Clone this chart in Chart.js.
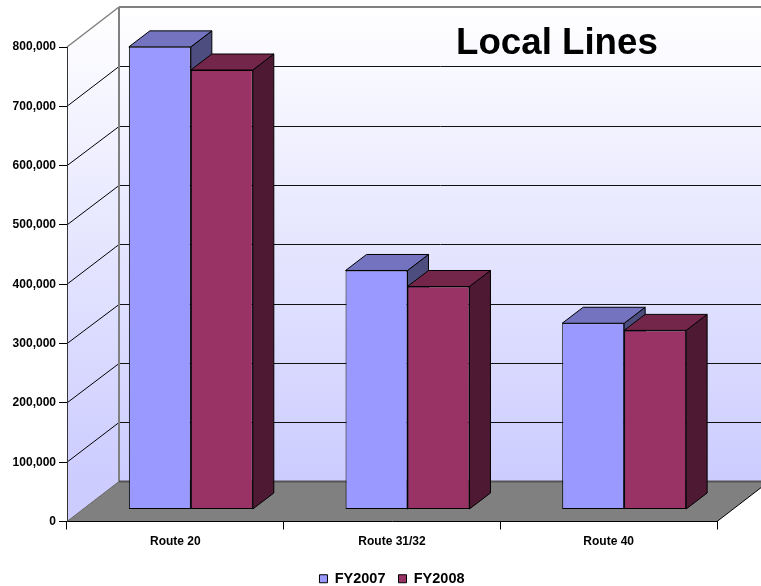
<!DOCTYPE html>
<html>
<head>
<meta charset="utf-8">
<title>Local Lines</title>
<style>
  html, body { margin: 0; padding: 0; background: #fff; }
  canvas { display: block; }
</style>
<script src="https://cdn.jsdelivr.net/npm/chart.js@4/dist/chart.umd.min.js"></script>
</head>
<body>
<canvas id="chart" width="761" height="586"></canvas>
<script>
const routes = ['Route 20', 'Route 31/32', 'Route 40'];
const fy2007 = [780000, 403000, 314000];
const fy2008 = [741000, 376000, 302000];
const yTickLabels = ['0', '100,000', '200,000', '300,000', '400,000', '500,000', '600,000', '700,000', '800,000'];

const FONT = '"Liberation Sans", Arial, sans-serif';
// box depth of the plot (walls) and of each bar
const WALL_DX = 52, WALL_DY = 40;
const BAR_DX = 21, BAR_DY = 16;
// bars stand part way back on the floor
const FLOOR_DX = 15.5, FLOOR_DY = 12;

const shades = {
  FY2007: { top: '#7373BF', side: '#4D4D80' },
  FY2008: { top: '#732649', side: '#4D1933' },
};

function poly(ctx, pts, fill, stroke, lw) {
  ctx.beginPath();
  pts.forEach((p, i) => i ? ctx.lineTo(p[0], p[1]) : ctx.moveTo(p[0], p[1]));
  ctx.closePath();
  if (fill) { ctx.fillStyle = fill; ctx.fill(); }
  if (stroke) { ctx.strokeStyle = stroke; ctx.lineWidth = lw || 1; ctx.stroke(); }
}

function segment(ctx, x1, y1, x2, y2, color, lw) {
  ctx.beginPath();
  ctx.moveTo(x1, y1);
  ctx.lineTo(x2, y2);
  ctx.strokeStyle = color;
  ctx.lineWidth = lw || 1;
  ctx.stroke();
}

const box3d = {
  id: 'box3d',
  // walls, floor and receding grid lines
  beforeDraw(chart) {
    const { ctx, chartArea: a, scales: { y } } = chart;
    const wallLeft = a.left + WALL_DX, wallTop = a.top - WALL_DY, wallBottom = a.bottom - WALL_DY;
    const wallRight = a.right + WALL_DX;

    const grad = ctx.createLinearGradient(0, wallTop, 0, wallBottom);
    grad.addColorStop(0, '#ffffff');
    grad.addColorStop(1, '#ccccff');

    ctx.save();
    poly(ctx, [[wallLeft, wallTop], [wallRight, wallTop], [wallRight, wallBottom], [wallLeft, wallBottom]], grad);
    poly(ctx, [[a.left, a.top], [wallLeft, wallTop], [wallLeft, wallBottom], [a.left, a.bottom]], grad);
    poly(ctx, [[a.left, a.bottom], [a.right, a.bottom], [wallRight, wallBottom], [wallLeft, wallBottom]], '#808080');

    y.ticks.forEach(t => {
      const py = y.getPixelForValue(t.value);
      if (t.value === 0 || t.value === y.max) return;
      const back = Math.round(py - WALL_DY) + 0.5;
      segment(ctx, a.left, py, wallLeft, back, '#000');
      segment(ctx, wallLeft, back, wallRight, back, '#111');
    });

    segment(ctx, a.left, a.top, wallLeft, wallTop, '#808080', 1.5);
    segment(ctx, wallLeft, wallTop, wallRight, wallTop, '#808080', 2);
    segment(ctx, wallLeft, wallTop, wallLeft, wallBottom, '#808080', 2);
    segment(ctx, wallLeft, wallBottom, wallRight, wallBottom, '#555', 2);
    segment(ctx, a.left, a.bottom, wallLeft, wallBottom, '#666', 1);
    segment(ctx, a.right, a.bottom, wallRight, wallBottom, '#000', 1);
    ctx.restore();
  },
  // side and top faces of every bar, left series first; the library paints the fronts after
  beforeDatasetsDraw(chart) {
    const { ctx } = chart;
    ctx.save();
    ctx.translate(FLOOR_DX, -FLOOR_DY);
    chart.data.datasets.forEach((ds, i) => {
      const s = shades[ds.label];
      chart.getDatasetMeta(i).data.forEach(el => {
        const l = el.x - el.width / 2, r = el.x + el.width / 2;
        poly(ctx, [[r, el.y], [r + BAR_DX, el.y - BAR_DY], [r + BAR_DX, el.base - BAR_DY], [r, el.base]], s.side, '#000');
        poly(ctx, [[l, el.y], [l + BAR_DX, el.y - BAR_DY], [r + BAR_DX, el.y - BAR_DY], [r, el.y]], s.top, '#000');
      });
    });
  },
  afterDatasetsDraw(chart) {
    chart.ctx.restore();
  },
  afterDraw(chart) {
    const { ctx } = chart;
    ctx.save();
    ctx.font = 'bold 36.7px ' + FONT;
    ctx.fillStyle = '#000';
    ctx.textAlign = 'left';
    ctx.textBaseline = 'alphabetic';
    ctx.fillText('Local Lines', 456, 54);
    ctx.restore();
  },
};

new Chart(document.getElementById('chart'), {
  type: 'bar',
  data: {
    labels: routes,
    datasets: [
      { label: 'FY2007', data: fy2007, backgroundColor: '#9999FF' },
      { label: 'FY2008', data: fy2008, backgroundColor: '#993366' },
    ],
  },
  plugins: [box3d],
  options: {
    responsive: false,
    animation: false,
    layout: { padding: { top: 47, right: 44, left: 0, bottom: -10 } },
    datasets: {
      bar: {
        categoryPercentage: 0.572, barPercentage: 1,
        borderColor: '#000', borderWidth: 1, borderSkipped: false, clip: false,
      },
    },
    plugins: {
      title: { display: false },
      tooltip: { enabled: false },
      legend: {
        position: 'bottom',
        fullSize: false,
        labels: {
          color: '#000',
          font: { family: FONT, size: 14.5, weight: 'bold' },
          boxWidth: 8, boxHeight: 8, padding: 13,
        },
      },
    },
    scales: {
      x: {
        grid: { drawOnChartArea: false, color: '#000', tickLength: 8 },
        border: { color: '#000' },
        ticks: { color: '#000', font: { family: FONT, size: 12, weight: 'bold' }, padding: 5, maxRotation: 0 },
        afterFit(scale) { scale.height = 37; },
      },
      y: {
        min: 0, max: 800000,
        grid: { drawOnChartArea: false, color: '#000', tickLength: 8 },
        border: { color: '#333' },
        ticks: {
          stepSize: 100000, color: '#000', padding: 3,
          font: { family: FONT, size: 12, weight: 'bold' },
          callback: (v, i) => yTickLabels[i],
        },
        afterFit(scale) { scale.width = 67; },
      },
    },
  },
});
</script>
</body>
</html>
